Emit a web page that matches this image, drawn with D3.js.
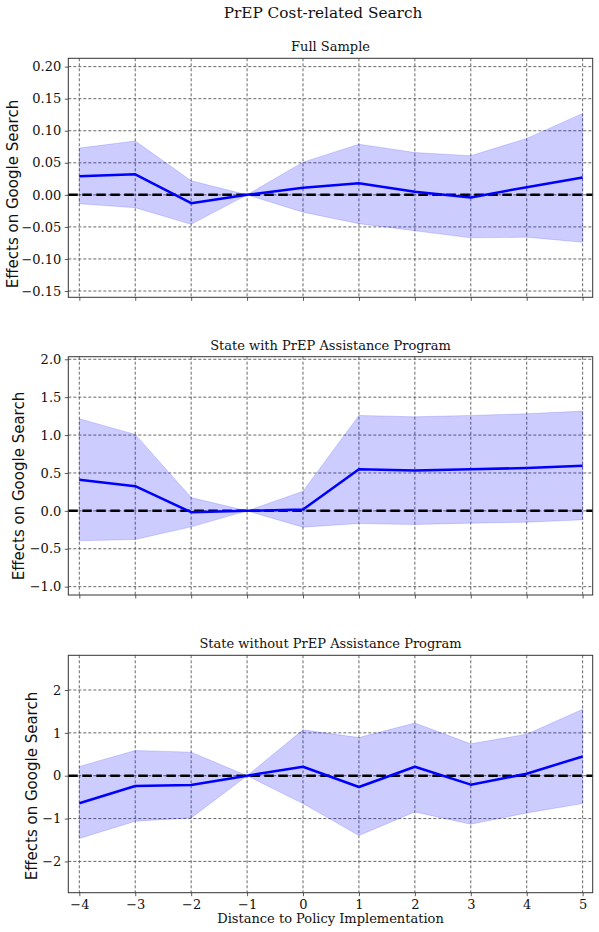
<!DOCTYPE html>
<html>
<head>
<meta charset="utf-8">
<script src="https://cdn.jsdelivr.net/npm/d3@7"></script>
<style>
  html, body { margin: 0; padding: 0; background: #fff; }
  svg { display: block; }
</style>
</head>
<body>
<div id="chart"></div>
<script>
// ---------- data ----------
const distances = [-4, -3, -2, -1, 0, 1, 2, 3, 4, 5];

const fullEst = [0.029, 0.032, -0.013, 0, 0.011, 0.018, 0.005, -0.004, 0.012, 0.027];
const fullLow = [-0.014, -0.020, -0.046, 0, -0.027, -0.045, -0.056, -0.067, -0.066, -0.074];
const fullHigh = [0.073, 0.084, 0.022, 0, 0.051, 0.079, 0.066, 0.061, 0.088, 0.127];

const withEst = [0.41, 0.325, -0.018, 0, 0.018, 0.548, 0.531, 0.548, 0.566, 0.596];
const withLow = [-0.395, -0.377, -0.211, 0, -0.215, -0.167, -0.180, -0.162, -0.149, -0.118];
const withHigh = [1.215, 1.009, 0.175, 0, 0.259, 1.259, 1.241, 1.259, 1.281, 1.316];

const withoutEst = [-0.643, -0.24, -0.217, 0, 0.209, -0.264, 0.209, -0.209, 0.047, 0.45];
const withoutLow = [-1.465, -1.062, -0.984, 0, -0.651, -1.395, -0.845, -1.132, -0.868, -0.651];
const withoutHigh = [0.217, 0.589, 0.55, 0, 1.07, 0.89, 1.23, 0.744, 0.969, 1.55];

const fullTicks = [-0.15, -0.10, -0.05, 0.00, 0.05, 0.10, 0.15, 0.20];
const withTicks = [-1.0, -0.5, 0.0, 0.5, 1.0, 1.5, 2.0];
const withoutTicks = [-2, -1, 0, 1, 2];

const panelTitles = ["Full Sample", "State with PrEP Assistance Program", "State without PrEP Assistance Program"];
const mainTitle = "PrEP Cost-related Search";
const yLabel = "Effects on Google Search";
const xLabel = "Distance to Policy Implementation";

// ---------- layout ----------
const W = 599, H = 932;
const left = 68.3, right = 592.7;
const panels = [
  { title: panelTitles[0], est: fullEst, lo: fullLow, hi: fullHigh, ticks: fullTicks, fmt: ".2f",
    domain: [-0.1598, 0.213], top: 58.3, bottom: 297.3, ylabX: 12.5, ylabY: 194 },
  { title: panelTitles[1], est: withEst, lo: withLow, hi: withHigh, ticks: withTicks, fmt: ".1f",
    domain: [-1.11, 2.034], top: 356.7, bottom: 595, ylabX: 19, ylabY: 486 },
  { title: panelTitles[2], est: withoutEst, lo: withoutLow, hi: withoutHigh, ticks: withoutTicks, fmt: "d",
    domain: [-2.73, 2.81], top: 655.3, bottom: 892.7, ylabX: 32, ylabY: 786 }
];

const serif = "'DejaVu Serif', serif";
const sans = "'DejaVu Sans', sans-serif";

const svg = d3.select("#chart").append("svg").attr("width", W).attr("height", H);

svg.append("text")
  .attr("x", 323).attr("y", 18)
  .attr("text-anchor", "middle")
  .attr("font-family", serif).attr("font-size", 15.3)
  .attr("fill", "#111")
  .text(mainTitle);

const x = d3.scaleLinear().domain([-4.197, 5.18]).range([left, right]);

const minus = s => s.replace(/-/g, "\u2212");

panels.forEach((p, i) => {
  const y = d3.scaleLinear().domain(p.domain).range([p.bottom, p.top]);
  const g = svg.append("g");

  // grid
  const grid = g.append("g").attr("stroke", "#222").attr("stroke-width", 0.8)
    .attr("stroke-dasharray", "3,2").attr("opacity", 0.85);
  grid.selectAll("line.v").data(distances).join("line")
    .attr("x1", d => x(d)).attr("x2", d => x(d))
    .attr("y1", p.top).attr("y2", p.bottom);
  grid.selectAll("line.h").data(p.ticks).join("line")
    .attr("x1", left).attr("x2", right)
    .attr("y1", d => y(d)).attr("y2", d => y(d));

  // band
  const idx = d3.range(distances.length);
  const area = d3.area()
    .x(k => x(distances[k]))
    .y0(k => y(p.lo[k]))
    .y1(k => y(p.hi[k]));
  g.append("path").datum(idx)
    .attr("d", area)
    .attr("fill", "#0000ff").attr("fill-opacity", 0.2)
    .attr("stroke", "#0000ff").attr("stroke-opacity", 0.15).attr("stroke-width", 1);

  // zero line
  g.append("line")
    .attr("x1", left).attr("x2", right)
    .attr("y1", y(0)).attr("y2", y(0))
    .attr("stroke", "#000").attr("stroke-width", 2.5)
    .attr("stroke-dasharray", "9.5,4.5");

  // estimate line
  const line = d3.line().x(k => x(distances[k])).y(k => y(p.est[k]));
  g.append("path").datum(idx)
    .attr("d", line)
    .attr("fill", "none").attr("stroke", "#0000ff").attr("stroke-width", 2.5)
    .attr("stroke-linejoin", "round");

  // axes
  const fmt = d3.format(p.fmt);
  const yAxis = d3.axisLeft(y).tickValues(p.ticks).tickSize(3.5).tickPadding(3.5)
    .tickFormat(d => minus(fmt(d)));
  const ya = g.append("g").attr("transform", `translate(${left},0)`).call(yAxis);
  const xAxis = d3.axisBottom(x).tickValues(distances).tickSize(3.5).tickPadding(3.5)
    .tickFormat(d => i === 2 ? minus(d3.format("d")(d)) : "");
  const xa = g.append("g").attr("transform", `translate(0,${p.bottom})`).call(xAxis);
  [ya, xa].forEach(a => {
    a.select(".domain").remove();
    a.selectAll("line").attr("stroke", "#333").attr("stroke-width", 0.8);
    a.selectAll("text").attr("font-family", serif).attr("font-size", 13).attr("fill", "#111");
  });

  // frame
  g.append("rect")
    .attr("x", left).attr("y", p.top)
    .attr("width", right - left).attr("height", p.bottom - p.top)
    .attr("fill", "none").attr("stroke", "#333").attr("stroke-width", 1);

  // title
  g.append("text")
    .attr("x", (left + right) / 2).attr("y", p.top - 7)
    .attr("text-anchor", "middle")
    .attr("font-family", serif).attr("font-size", 13).attr("fill", "#111")
    .text(p.title);

  // y label
  g.append("text")
    .attr("transform", `translate(${p.ylabX},${p.ylabY}) rotate(-90)`)
    .attr("text-anchor", "middle").attr("dominant-baseline", "central")
    .attr("font-family", sans).attr("font-size", 15).attr("fill", "#111")
    .text(yLabel);
});

svg.append("text")
  .attr("x", (left + right) / 2).attr("y", 923)
  .attr("text-anchor", "middle")
  .attr("font-family", serif).attr("font-size", 13).attr("fill", "#111")
  .text(xLabel);
</script>
</body>
</html>
